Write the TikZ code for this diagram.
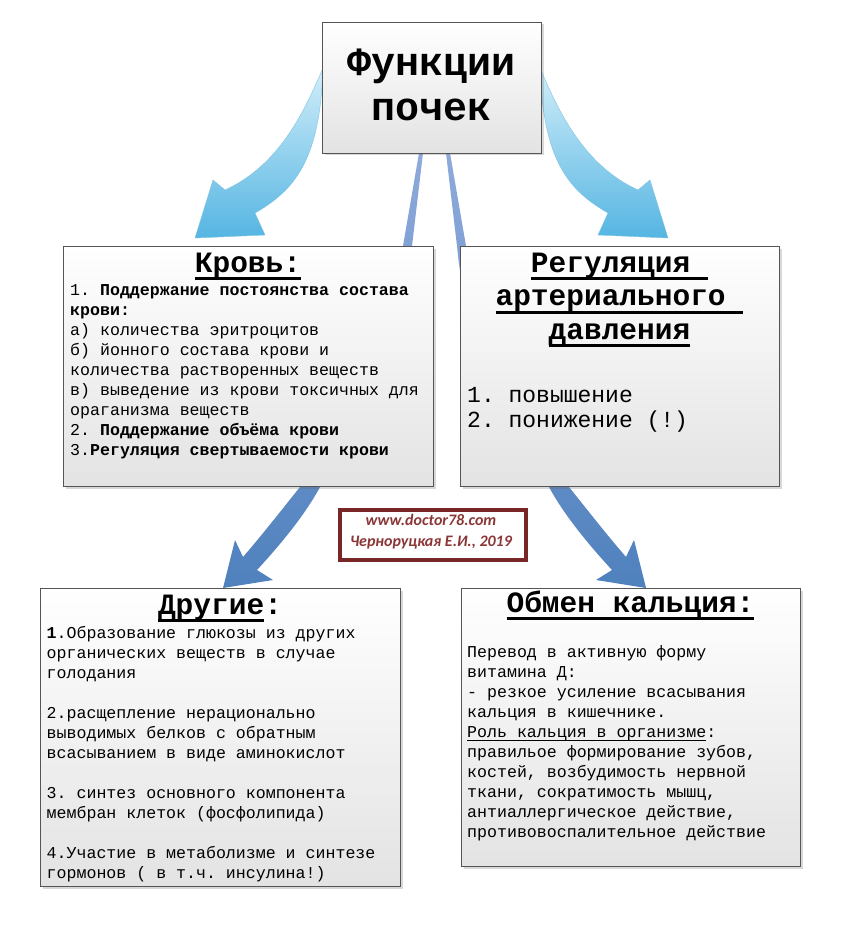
\documentclass[tikz,border=0pt]{standalone}
\usepackage{fontspec}
\setmainfont{Liberation Mono}
\setmonofont{Liberation Mono}
\newfontfamily\wmfont{Carlito}
\usetikzlibrary{shadows}
\definecolor{lbA}{HTML}{D2EEFA}
\definecolor{lbB}{HTML}{55B5E2}
\definecolor{lbE}{HTML}{80C4E4}
\definecolor{dbA}{HTML}{4F81BD}
\definecolor{dbL}{HTML}{8FAADB}
\definecolor{wmB}{RGB}{120,38,38}
\definecolor{wmT}{RGB}{140,55,55}
\definecolor{boxB}{HTML}{555555}
\newcommand\myul[3]{\leavevmode\vtop{\hbox{\raisebox{0pt}[\height][0pt]{#3}}\kern#1\hrule height#2}}
\frenchspacing
\begin{document}
\begin{tikzpicture}[x=1pt,y=-1pt,
  box/.style={draw=boxB, line width=0.8pt, top color=white, bottom color=black!11,
    anchor=north west, inner sep=0pt, outer sep=0pt,
    drop shadow={shadow xshift=2.5pt, shadow yshift=-2.5pt, opacity=.25, fill=black!60}},
  ttl/.style={font=\fontsize{29.5}{33.5}\selectfont\bfseries, anchor=base, inner sep=0pt},
  bodytxt/.style={font=\fontsize{16.6}{20}\selectfont, anchor=north west, inner sep=0pt, align=left},
  lightarrow/.style={top color=lbA, bottom color=lbB, draw=lbE, line width=0.4pt},
  darkarrow/.style={top color=dbL, middle color=dbA, bottom color=dbA},
  wmtxt/.style={font=\wmfont\bfseries\itshape\fontsize{16}{18}\selectfont, text=wmT, inner sep=0pt}]
\useasboundingbox (0,0) rectangle (840,928);
\fill[white] (0,0) rectangle (840,928);

% dark arrows (behind boxes)
\path[darkarrow] (419,153) -- (403,246) .. controls (385,370) and (335,445) .. (300,487)
  .. controls (280,512) and (262,535) .. (243,557) -- (235,540) -- (223,588) -- (273,580) -- (257,570)
  .. controls (280,545) and (305,515) .. (320,487) .. controls (350,435) and (400,370) .. (412,246)
  -- (423,153) -- cycle;
\begin{scope}[xshift=869pt, xscale=-1]
\path[darkarrow] (419,153) -- (403,246) .. controls (385,370) and (335,445) .. (300,487)
  .. controls (280,512) and (262,535) .. (243,557) -- (235,540) -- (223,588) -- (273,580) -- (257,570)
  .. controls (280,545) and (305,515) .. (320,487) .. controls (350,435) and (400,370) .. (412,246)
  -- (423,153) -- cycle;
\end{scope}

% light arrows
\path[lightarrow] (323,68) .. controls (305,110) and (280,165) .. (225,190) -- (213,180) -- (195,238)
  -- (265,235) -- (255,213) .. controls (295,190) and (320,160) .. (323,68) -- cycle;
\begin{scope}[xshift=863pt, xscale=-1]
\path[lightarrow] (323,68) .. controls (305,110) and (280,165) .. (225,190) -- (213,180) -- (195,238)
  -- (265,235) -- (255,213) .. controls (295,190) and (320,160) .. (323,68) -- cycle;
\end{scope}

% boxes
\node[box, minimum width=219pt, minimum height=131pt] (top) at (322,22) {};
\node[box, minimum width=370pt, minimum height=240pt] (krov) at (63,246) {};
\node[box, minimum width=319pt, minimum height=240pt] (reg) at (460,246) {};
\node[box, minimum width=360pt, minimum height=298pt] (drug) at (40,588) {};
\node[box, minimum width=339pt, minimum height=278pt] (obm) at (461,588) {};

% top title
\node[font=\fontsize{40}{45}\selectfont\bfseries, anchor=base, inner sep=0pt] (t1) at (431.5,76) {Функции};
\node[font=\fontsize{40}{45}\selectfont\bfseries, anchor=base, inner sep=0pt] (t2) at (431.5,121) {почек};

% Кровь
\node[ttl] (krovT) at (248,272) {\myul{5pt}{3pt}{Кровь:}};
\node[bodytxt] (krovB) at (70,281) {\strut1. \textbf{Поддержание постоянства состава}\\
\textbf{крови:}\\
а) количества эритроцитов\\
б) йонного состава крови и\\
количества растворенных веществ\\
в) выведение из крови токсичных для\\
ораганизма веществ\\
2. \textbf{Поддержание объёма крови}\\
3.\textbf{Регуляция свертываемости крови}};

% Регуляция
\node[ttl] (regT1) at (619.5,272) {\myul{5pt}{3pt}{Регуляция }};
\node[ttl] (regT2) at (619.5,305.5) {\myul{5pt}{3pt}{артериального }};
\node[ttl] (regT3) at (619.5,339) {\myul{5pt}{3pt}{давления}};
\node[bodytxt, font=\fontsize{23}{25}\selectfont] (regB) at (467,384.5) {\strut1. повышение\\
2. понижение (!)};

% Другие
\node[ttl] (drugT) at (220,614) {\myul{5pt}{3pt}{Другие}:};
\node[bodytxt] (drugB) at (46.5,624) {\strut\textbf{1}.Образование глюкозы из других\\
органических веществ в случае\\
голодания\\[20pt]
2.расщепление нерационально\\
выводимых белков с обратным\\
всасыванием в виде аминокислот\\[20pt]
3. синтез основного компонента\\
мембран клеток (фосфолипида)\\[20pt]
4.Участие в метаболизме и синтезе\\
гормонов ( в т.ч. инсулина!)};

% Обмен кальция
\node[ttl] (obmT) at (630.5,612) {\myul{5pt}{3pt}{Обмен кальция:}};
\node[bodytxt] (obmB) at (467,643) {\strut Перевод в активную форму\\
витамина Д:\\
- резкое усиление всасывания\\
кальция в кишечнике.\\
\myul{2.5pt}{0.8pt}{Роль кальция в организме}:\\
правильое формирование зубов,\\
костей, возбудимость нервной\\
ткани, сократимость мышц,\\
антиаллергическое действие,\\
противовоспалительное действие};

% watermark
\node[draw=wmB, line width=4pt, fill=white, minimum width=186pt, minimum height=50pt,
  anchor=north west, inner sep=0pt] (wm) at (338,508) {};
\node[wmtxt] (wm1) at (431,520) {www.doctor78.com};
\node[wmtxt] (wm2) at (431,543) {Черноруцкая Е.И., 2019};
\end{tikzpicture}
\end{document}
